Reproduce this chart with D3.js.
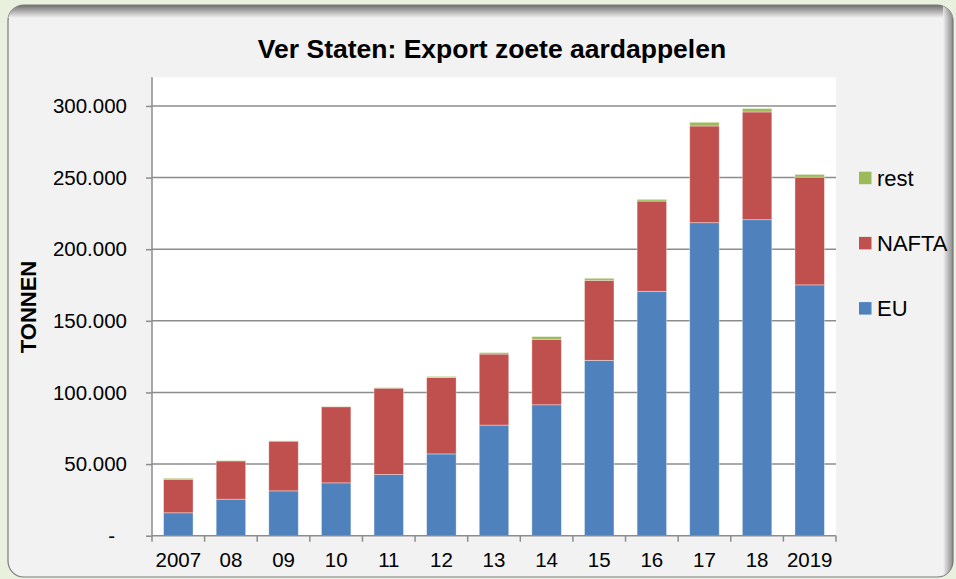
<!DOCTYPE html>
<html><head><meta charset="utf-8">
<script src="https://cdn.jsdelivr.net/npm/d3@7"></script>
<style>html,body{margin:0;padding:0;background:#e9f1de;}svg{display:block;}</style>
</head><body>
<script>
const years = ["2007","08","09","10","11","12","13","14","15","16","17","18","2019"];
const EU    = [16000,25500,31300,36900,42700,57100,77200,91400,122400,170600,218500,220600,175100];
const NAFTA = [23400,26700,34700,53100,60300,53400,49600,45700,55900,63000,67500,75200,75200];
const rest  = [700,300,200,200,400,700,1000,1900,1400,1200,2600,2400,1900];
const seriesNames = ["EU","NAFTA","rest"];
const colors = {EU:"#4f81bd", NAFTA:"#c0504d", rest:"#9bbb59"};
const yTicks = [0,50000,100000,150000,200000,250000,300000];

(function(){
const W=956,H=579;
const FONT="Liberation Sans, Arial, sans-serif";
const svg=d3.select("body").append("svg").attr("width",W).attr("height",H);
const defs=svg.append("defs");
const g1=defs.append("linearGradient").attr("id","topShade").attr("x1",0).attr("y1",0).attr("x2",0).attr("y2",1);
g1.append("stop").attr("offset","0%").attr("stop-color","#6e6e6e");
g1.append("stop").attr("offset","100%").attr("stop-color","#f2f2f2");
const g2=defs.append("linearGradient").attr("id","rightShade").attr("x1",0).attr("y1",0).attr("x2",1).attr("y2",0);
g2.append("stop").attr("offset","0%").attr("stop-color","#f2f2f2");
g2.append("stop").attr("offset","100%").attr("stop-color","#6e6e6e");

svg.append("rect").attr("width",W).attr("height",H).attr("fill","#e9f1de");
svg.append("rect").attr("x",8).attr("y",5).attr("width",945).attr("height",572).attr("rx",16)
  .attr("fill","#f2f2f2").attr("stroke","#7a7a7a").attr("stroke-width",1.2);
const clip=defs.append("clipPath").attr("id","pc");
clip.append("rect").attr("x",8).attr("y",5).attr("width",945).attr("height",572).attr("rx",16);
svg.append("rect").attr("x",8).attr("y",5).attr("width",945).attr("height",13).attr("fill","url(#topShade)").attr("clip-path","url(#pc)");
svg.append("rect").attr("x",943).attr("y",5).attr("width",10).attr("height",572).attr("fill","url(#rightShade)").attr("clip-path","url(#pc)").attr("opacity",0.8);

const pL=152,pR=836,pT=77.3,pB=535.7;
svg.append("rect").attr("x",pL).attr("y",pT).attr("width",pR-pL).attr("height",pB-pT).attr("fill","#fff");

const x=d3.scaleBand().domain(years).range([pL,pR]).paddingInner(0.44).paddingOuter(0.22);
const y=d3.scaleLinear().domain([0,320000]).range([pB,pT]);

svg.append("g").selectAll("line").data(yTicks.slice(1)).join("line")
  .attr("x1",pL).attr("x2",pR).attr("y1",d=>y(d)).attr("y2",d=>y(d))
  .attr("stroke","#8c8c8c").attr("stroke-width",1.5);

const data=years.map((yr,i)=>({year:yr,EU:EU[i],NAFTA:NAFTA[i],rest:rest[i]}));
const stack=d3.stack().keys(seriesNames)(data);
svg.append("g").selectAll("g").data(stack).join("g").attr("fill",d=>colors[d.key])
  .selectAll("rect").data(d=>d).join("rect")
  .attr("x",d=>x(d.data.year)).attr("width",x.bandwidth())
  .attr("y",d=>y(d[1])).attr("height",d=>y(d[0])-y(d[1]))
  .attr("stroke","rgba(255,255,255,0.45)").attr("stroke-width",0.8);

const fmt=d=>d===0?"-":d3.format(",")(d).replace(/,/g,".");
const ya=svg.append("g").attr("transform",`translate(${pL},0)`)
  .call(d3.axisLeft(y).tickValues(yTicks).tickSize(6).tickPadding(19).tickFormat(fmt));
ya.select(".domain").attr("stroke","#8c8c8c").attr("stroke-width",1.5).attr("d",`M0,${pT}V${pB}`);
ya.selectAll(".tick line").attr("stroke","#8c8c8c").attr("stroke-width",1.5);
ya.selectAll("text").attr("font-family",FONT).attr("font-size",20.5).attr("fill","#000");
ya.selectAll(".tick").filter(d=>d===0).select("text").attr("dx",-12);

const xa=svg.append("g").attr("transform",`translate(0,${pB})`)
  .call(d3.axisBottom(x).tickSize(0).tickPadding(17));
xa.select(".domain").attr("stroke","#8c8c8c").attr("stroke-width",1.5).attr("d",`M${pL},0H${pR}`);
xa.selectAll("text").attr("font-family",FONT).attr("font-size",20.5).attr("fill","#000");
const bounds=d3.range(years.length+1).map(i=>pL+i*(pR-pL)/years.length);
svg.append("g").selectAll("line").data(bounds).join("line")
  .attr("x1",d=>d).attr("x2",d=>d).attr("y1",pB).attr("y2",pB+6)
  .attr("stroke","#8c8c8c").attr("stroke-width",1.5);

svg.append("text").attr("x",492).attr("y",58).attr("text-anchor","middle")
  .attr("font-family",FONT).attr("font-weight","bold").attr("font-size",26.5)
  .text("Ver Staten: Export zoete aardappelen");
svg.append("text").attr("transform","translate(36,307) rotate(-90)").attr("text-anchor","middle")
  .attr("font-family",FONT).attr("font-weight","bold").attr("font-size",22)
  .text("TONNEN");

const legendItems=["rest","NAFTA","EU"];
const lg=svg.append("g").selectAll("g").data(legendItems).join("g")
  .attr("transform",(d,i)=>`translate(859,${171.7+i*65.2})`);
lg.append("rect").attr("width",12.5).attr("height",12.5).attr("fill",d=>colors[d]);
lg.append("text").attr("x",18).attr("y",14).attr("font-family",FONT)
  .attr("font-size",22).text(d=>d);
})();
</script>
</body></html>
